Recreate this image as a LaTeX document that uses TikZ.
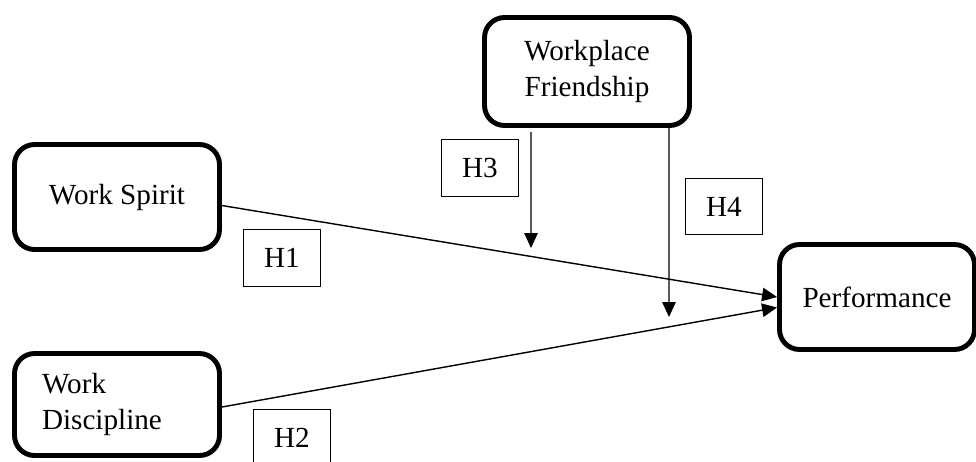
\documentclass[tikz,border=0pt]{standalone}
\usepackage{fontspec}
\setmainfont{Liberation Serif}
\usetikzlibrary{arrows.meta, positioning}

\begin{document}
\begin{tikzpicture}[x=0.02cm, y=-0.02cm,
    factor/.style={draw, line width=2.8pt, rounded corners=0.4cm, align=center, minimum width=4.1cm, minimum height=2.1cm, font=\fontsize{16.6}{20.5}\selectfont},
    hyp/.style={draw, line width=0.8pt, minimum width=1.53cm, minimum height=1.13cm, font=\fontsize{16.6}{20}\selectfont},
    link/.style={line width=0.8pt, -{Triangle[length=0.3cm, width=0.27cm]}}]

    \useasboundingbox (0, 0) rectangle (976, 461);

    % Variables
    \node at (117, 197) [factor] (ws) {Work Spirit};
    \node at (117, 404.5) [factor, minimum height=2.04cm, align=left, text width=3.0cm, inner xsep=0.55cm] (wd) {Work\\Discipline};
    \node at (587, 71.5) [factor, minimum height=2.16cm] (wf) {Workplace\\Friendship};
    \node at (877, 297) [factor, minimum width=3.9cm] (perf) {Performance};

    % Hypotheses
    \node at (282, 258) [hyp] (h1) {H1};
    \node at (292, 438) [hyp] (h2) {H2};
    \node at (480, 168) [hyp] (h3) {H3};
    \node at (724, 206.5) [hyp] (h4) {H4};

    \coordinate (h3end) at (531, 248);
    \coordinate (h4end) at (669, 317);

    \draw[link] ([yshift=-0.17cm] ws.east) -- (perf.west);
    \draw[link] ([yshift=-0.05cm] wd.east) -- ([yshift=-0.21cm] perf.west);
    \draw[link] ([xshift=-1.12cm, yshift=-0.08cm] wf.south) -- (h3end);
    \draw[link] ([xshift=1.64cm] wf.south) -- (h4end);

\end{tikzpicture}
\end{document}
